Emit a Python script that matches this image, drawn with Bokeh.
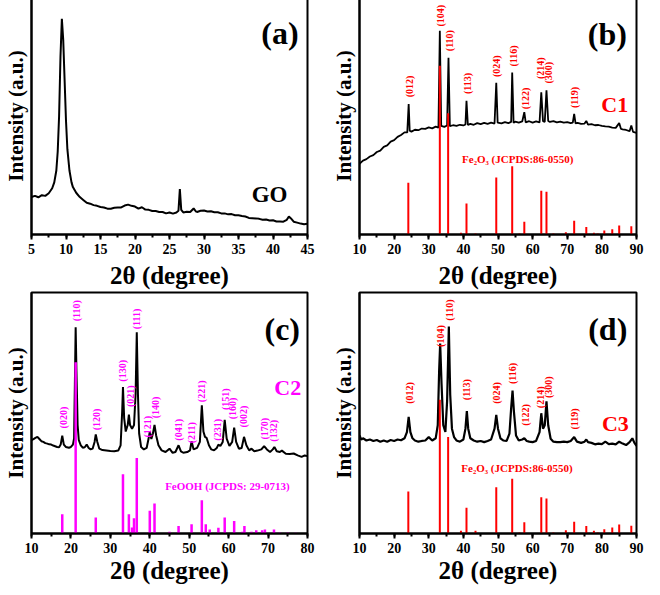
from math import pi
from bokeh.plotting import figure
from bokeh.layouts import column, row
from bokeh.models import Range1d, SingleIntervalTicker, FixedTicker
from bokeh.core.properties import value
from bokeh.embed import file_html
from bokeh.resources import INLINE

FONT = "Liberation Serif"
RED = "#FF0000"
MAG = "#FF00FF"

# ---------------- (a) GO ----------------
go_x = [5.0, 5.5, 6.0, 6.5, 7.0, 7.5, 8.0, 8.3, 8.6, 8.8, 9.0, 9.2, 9.4, 9.6, 9.8, 10.0,
        10.2, 10.5, 10.8, 11.0, 11.5, 12.0, 12.5, 13.0, 13.5, 14.0, 14.5, 15.0, 15.5, 16.0,
        16.5, 17.0, 17.5, 18.0, 18.5, 19.0, 19.5, 20.0, 20.5, 21.0, 21.5, 22.0, 22.5, 23.0,
        23.5, 24.0, 24.5, 25.0, 25.5, 26.0, 26.3, 26.5, 26.7, 27.0, 27.5, 28.0, 28.5, 28.8,
        29.0, 29.5, 30.0, 30.5, 31.0, 31.5, 32.0, 32.5, 33.0, 33.5, 34.0, 34.5, 35.0, 35.5,
        36.0, 36.5, 37.0, 37.5, 38.0, 38.5, 39.0, 39.5, 40.0, 40.5, 41.0, 41.5, 42.0, 42.3,
        42.6, 43.0, 43.5, 44.0, 44.5, 45.0]
go_y = [15.8, 16.3, 15.7, 16.6, 16.3, 17.4, 19.5, 22.0, 27.0, 35.0, 50.0, 75.0, 91.0, 82.0,
        65.0, 48.0, 36.0, 27.0, 22.0, 20.0, 17.5, 15.8, 14.6, 13.4, 13.0, 12.4, 12.1, 11.6,
        11.4, 10.9, 10.9, 11.3, 11.4, 11.4, 12.2, 12.6, 12.1, 11.8, 10.9, 11.5, 10.5, 10.4,
        9.9, 9.9, 9.5, 9.5, 8.9, 9.3, 8.8, 9.3, 10.0, 19.2, 10.4, 9.3, 9.6, 9.5, 11.0, 9.8,
        9.5, 10.0, 10.1, 9.7, 9.8, 9.4, 9.4, 8.9, 8.9, 8.5, 8.6, 8.1, 8.1, 7.8, 7.6, 7.0,
        6.9, 6.8, 6.6, 6.2, 6.3, 5.9, 6.0, 5.5, 5.5, 5.4, 6.2, 7.6, 6.8, 5.4, 5.0, 4.6, 4.3, 4.5]

# ---------------- (b) C1 ----------------
c1_x = [10, 11, 12, 13, 14, 15, 16, 17, 18, 19, 20, 21, 22, 23, 23.8, 24.2, 24.5, 25, 26,
        27, 28, 29, 30, 31, 32, 32.8, 33.2, 33.6, 34.5, 35.3, 35.7, 36.1, 37, 38, 39, 40,
        40.6, 40.9, 41.3, 42, 43, 44, 45, 46, 47, 48, 49, 49.5, 49.9, 51, 52, 53, 53.8, 54.1,
        54.5, 55, 56, 57, 57.6, 58, 59, 60, 61, 62, 62.5, 63, 63.5, 64.0, 64.5, 65, 66, 67,
        68, 69, 70, 71, 71.6, 72, 72.4, 73, 74, 75, 75.5, 76, 77, 78, 79, 80, 81, 82, 83,
        84, 85, 85.5, 86, 87, 88, 88.5, 89, 90]
c1_y = [29.8, 31.2, 31.8, 32.9, 33.5, 34.8, 35.4, 37.0, 37.6, 39.2, 39.8, 41.2, 42.0, 43.1,
        43.1, 55.0, 43.8, 43.4, 44.2, 44.0, 44.7, 44.6, 45.2, 44.8, 45.5, 45.1, 86.0, 45.8,
        45.4, 46.0, 74.6, 45.7, 46.1, 45.8, 46.3, 46.0, 46.4, 56.4, 46.2, 46.7, 46.3, 47.0,
        46.6, 47.1, 46.7, 47.2, 46.8, 64.0, 47.2, 46.9, 47.4, 47.0, 47.5, 68.3, 47.1, 47.6,
        47.2, 47.7, 51.6, 47.3, 47.8, 47.2, 47.7, 47.3, 60.0, 47.8, 47.5, 60.8, 47.9, 47.5,
        47.8, 47.3, 47.6, 47.2, 47.4, 47.0, 47.2, 50.9, 46.9, 47.1, 46.7, 46.8, 47.9, 46.4,
        46.6, 46.1, 46.2, 45.8, 45.6, 45.5, 45.1, 45.0, 47.0, 44.6, 44.4, 44.1, 43.6, 46.0,
        43.3, 42.9]

fe2o3_x = [24.1, 33.2, 35.6, 39.3, 40.9, 43.5, 49.5, 54.1, 56.2, 57.6, 62.5, 64.0, 66.0,
           69.6, 72.0, 75.5, 77.7, 78.8, 80.7, 83.0, 85.0, 88.5]
ref_b_h = [21.8, 71.2, 51.2, 0.7, 13.1, 0.4, 24.0, 28.8, 0.4, 5.4, 18.5, 18.0, 0.4,
           1.0, 5.8, 3.2, 0.7, 0.4, 1.7, 2.2, 3.8, 3.5]
hkl_fe = ["(012)", "(104)", "(110)", "(113)", "(024)", "(116)", "(122)", "(214)", "(300)", "(119)"]
hkl_b_x = [24.4, 33.5, 36.0, 41.2, 49.7, 54.4, 57.9, 62.3, 64.7, 72.2]
hkl_b_y = [62.5, 92.3, 81.8, 63.7, 71.0, 75.3, 57.4, 70.2, 68.3, 57.8]

# ---------------- (c) C2 ----------------
c2_x = [10, 10.5, 11, 11.5, 12, 12.5, 13, 13.5, 14, 14.5, 15, 15.5, 16, 16.5, 17, 17.4, 17.8,
        18.2, 18.7, 19.5, 20, 20.5, 20.8, 21.0, 21.2, 21.4, 21.7, 22.0, 22.5, 23, 23.5, 24.0,
        24.5, 25, 25.5, 26.0, 26.3, 26.7, 27.2, 28, 29, 30, 31, 32, 32.6, 33.0, 33.2, 33.5,
        33.9, 34.4, 34.7, 35.0, 35.5, 36.0, 36.4, 36.7, 37.0, 37.3, 37.8, 38.5, 39.2, 39.7,
        40.0, 40.4, 40.8, 41.2, 41.6, 42.2, 43, 44, 45, 45.8, 46.5, 47.3, 47.9, 48.5, 49.5,
        50.2, 50.6, 51.1, 52, 52.7, 53.2, 53.6, 54.0, 54.4, 55.0, 55.6, 56.3, 57.0, 57.4,
        57.9, 58.5, 59.0, 59.5, 60.2, 60.9, 61.4, 61.9, 62.6, 63.3, 63.9, 64.5, 65.2, 65.8,
        66.5, 67.3, 68.3, 69.0, 69.7, 70.5, 71.2, 71.6, 72.2, 73, 73.5, 74.5, 75.5, 76.5,
        77.5, 78.5, 79.3, 80]
c2_y = [38.7, 39.2, 39.7, 40.1, 39.2, 38.3, 38.0, 37.5, 37.3, 37.0, 36.9, 36.5, 36.2, 35.9,
        35.8, 36.9, 40.6, 36.9, 35.9, 35.6, 35.9, 36.9, 39.4, 62.0, 85.6, 67.6, 45.0, 38.7,
        36.6, 35.6, 35.8, 36.9, 35.5, 34.9, 35.2, 38.0, 41.1, 38.0, 35.2, 34.6, 34.4, 34.2,
        34.1, 34.4, 36.6, 50.7, 60.8, 47.9, 42.3, 45.0, 49.3, 45.0, 43.4, 45.0, 57.7, 83.5,
        57.7, 41.5, 35.9, 34.9, 35.5, 39.4, 42.3, 39.2, 41.5, 45.1, 40.8, 36.6, 34.5, 33.8,
        35.2, 33.5, 33.8, 36.6, 34.1, 33.5, 33.8, 34.5, 38.3, 34.9, 35.5, 38.0, 53.2, 42.3,
        40.1, 39.7, 36.6, 34.9, 34.5, 35.5, 36.9, 36.3, 38.0, 47.2, 39.4, 36.3, 38.0, 43.9,
        38.0, 35.2, 35.5, 40.1, 36.6, 34.5, 35.2, 34.1, 34.4, 34.9, 36.3, 34.9, 33.8, 34.9,
        35.9, 34.1, 33.8, 34.4, 33.1, 33.0, 33.2, 32.4, 31.8, 32.4, 32.1]

feooh_x = [17.8, 21.2, 26.3, 33.2, 34.7, 35.5, 36.0, 36.7, 40.0, 41.2, 45.0, 47.3, 50.6,
           53.2, 54.2, 55.2, 57.4, 59.0, 61.4, 63.5, 64.0, 65.8, 67.0, 68.5, 69.2, 71.5,
           73.0, 75.0, 77.0]
feooh_h = [8.0, 71.1, 6.6, 24.6, 8.0, 2.5, 6.3, 31.3, 9.4, 12.4, 0.7, 3.1, 3.8, 13.8, 3.8,
           1.7, 2.4, 6.6, 5.2, 0.7, 3.1, 0.7, 1.4, 1.4, 1.7, 1.7, 0.4, 0.4, 0.3]
hkl_c = ["(020)", "(110)", "(120)", "(130)", "(021)", "(111)", "(121)", "(140)", "(041)",
         "(211)", "(221)", "(231)", "(151)", "(160)", "(002)", "(170)", "(132)"]
hkl_c_x = [18.1, 21.3, 26.5, 33.2, 35.2, 36.7, 39.5, 41.5, 47.2, 50.5, 53.1, 57.1, 59.1,
           61.1, 63.8, 69.1, 71.5]
hkl_c_y = [48.1, 92.4, 47.3, 67.5, 57.0, 89.0, 44.3, 52.3, 43.0, 41.8, 59.0, 43.0, 55.7,
           51.9, 48.5, 43.5, 42.6]

# ---------------- (d) C3 ----------------
c3_x = [10, 10.5, 11, 12, 13, 14, 15, 16, 17, 18, 19, 20, 21, 22, 23, 23.7, 24.2, 24.7, 25.3,
        26, 27, 28, 29, 30, 31, 32, 32.6, 33.0, 33.3, 33.7, 34.2, 34.8, 35.3, 35.8, 36.2, 36.7,
        37.3, 38, 39, 40, 40.6, 41.0, 41.4, 42, 43, 44, 45, 46, 47, 48, 49.0, 49.5, 50.0, 50.7,
        51.5, 52.5, 53.3, 53.8, 54.2, 54.6, 55.2, 56, 57, 57.6, 58.3, 59, 60, 61, 62, 62.5,
        63.0, 63.5, 64.0, 64.5, 65.2, 66, 67, 68, 69, 70, 71, 72, 72.8, 74, 75, 75.5, 76, 77,
        78, 79, 80, 81, 82, 83, 84, 85, 86, 87, 88, 88.8, 89.4, 90]
c3_y = [40.7, 39.0, 39.5, 38.6, 39.0, 38.4, 38.8, 38.1, 38.6, 38.1, 38.8, 38.4, 39.0, 38.7,
        39.5, 42.1, 48.4, 42.1, 39.5, 38.6, 38.1, 38.4, 38.6, 40.0, 38.6, 39.5, 44.9, 67.5,
        78.8, 61.9, 44.9, 42.1, 54.8, 85.9, 57.6, 43.5, 40.0, 38.6, 38.1, 39.0, 43.5, 50.8,
        43.5, 39.5, 38.6, 38.1, 38.4, 37.9, 38.4, 39.0, 43.5, 49.2, 43.5, 39.5, 38.6, 38.4,
        41.4, 52.0, 59.3, 50.6, 40.7, 38.6, 39.0, 39.5, 38.4, 38.1, 37.9, 38.4, 42.1, 49.9,
        43.5, 44.9, 54.8, 44.9, 39.3, 38.1, 37.9, 37.9, 38.1, 37.9, 38.4, 40.0, 38.1, 37.6,
        38.1, 39.0, 37.9, 37.6, 37.0, 37.3, 37.1, 38.1, 37.1, 37.3, 37.0, 38.1, 37.3, 36.7,
        37.9, 39.5, 37.6, 36.4]
ref_d_h = [17.4, 55.5, 40.0, 1.1, 10.7, 1.1, 19.2, 22.7, 0.4, 4.7, 15.0, 14.5, 0.4,
           1.4, 4.9, 3.1, 1.1, 0.4, 1.8, 2.5, 3.7, 3.2]
hkl_d_x = [24.3, 33.4, 35.9, 41.0, 49.6, 54.3, 57.8, 62.2, 64.6, 72.2]
hkl_d_y = [58.3, 81.9, 92.7, 59.7, 58.3, 66.4, 49.2, 56.5, 60.7, 47.5]


def base(width, height, xr, interval, bl, br, bt, bb, mls, als):
    p = figure(width=width, height=height, x_range=Range1d(*xr), y_range=Range1d(0, 100),
               output_backend="svg", toolbar_location=None,
               min_border_left=bl, min_border_right=br, min_border_top=bt, min_border_bottom=bb)
    p.xgrid.visible = False
    p.ygrid.visible = False
    p.border_fill_alpha = 0
    p.outline_line_color = "black"
    p.outline_line_width = 2
    p.outline_line_alpha = 1
    xa = p.xaxis[0]
    xa.ticker = SingleIntervalTicker(interval=interval, num_minor_ticks=2)
    xa.axis_line_width = 2
    xa.axis_line_color = "black"
    xa.major_tick_line_width = 2
    xa.major_tick_line_color = "black"
    xa.major_tick_in = 0
    xa.major_tick_out = 5
    xa.minor_tick_line_width = 2
    xa.minor_tick_line_color = "black"
    xa.minor_tick_in = 0
    xa.minor_tick_out = 3
    xa.major_label_text_font = FONT
    xa.major_label_text_font_size = "14px"
    xa.major_label_text_font_style = "bold"
    xa.major_label_text_color = "black"
    xa.major_label_standoff = mls
    xa.axis_label = "2θ (degree)"
    xa.axis_label_text_font = FONT
    xa.axis_label_text_font_size = "25px"
    xa.axis_label_text_font_style = "bold"
    xa.axis_label_text_color = "black"
    xa.axis_label_standoff = als
    ya = p.yaxis[0]
    ya.ticker = FixedTicker(ticks=[])
    ya.major_tick_line_color = None
    ya.minor_tick_line_color = None
    ya.axis_line_width = 2
    ya.axis_line_color = "black"
    ya.axis_label = "Intensity (a.u.)"
    ya.axis_label_text_font = FONT
    ya.axis_label_text_font_size = "21px"
    ya.axis_label_text_font_style = "bold"
    ya.axis_label_text_color = "black"
    ya.axis_label_standoff = 4
    return p


def label(p, x, y, t, size, color, angle=0.0):
    p.text(x=x, y=y, text=t, angle=angle, text_font=value(FONT), text_font_size=size,
           text_font_style="bold", text_color=color, text_align="center",
           text_baseline="middle")


H1, H2 = 295, 307

# (a)
pa = base(328, H1, (5, 45), 5, 28, 21, 1, 40, 4, 5)
pa.line(go_x, go_y, line_color="black", line_width=2)
label(pa, [41.0], [85.0], ["(a)"], "32px", "black")
label(pa, [39.5], [16.7], ["GO"], "23px", "black")

# (b)
pb = base(316, H1, (10, 90), 10, 29, 8, 1, 40, 4, 5)
pb.line(c1_x, c1_y, line_color="black", line_width=1.8)
pb.segment(x0=fe2o3_x, y0=[0] * len(fe2o3_x), x1=fe2o3_x, y1=ref_b_h, line_color=RED, line_width=2)
label(pb, hkl_b_x, hkl_b_y, hkl_fe, "10px", RED, pi / 2)
label(pb, [81.6], [84.6], ["(b)"], "32px", "black")
label(pb, [83.7], [55.0], ["C1"], "22px", RED)
label(pb, [55.7], [32.0], ["Fe₂O₃ (JCPDS:86-0550)"], "11px", RED)

# (c)
pc = base(328, H2, (10, 80), 10, 28, 21, 13, 40, 4, 1)
pc.line(c2_x, c2_y, line_color="black", line_width=2)
pc.segment(x0=feooh_x, y0=[0] * len(feooh_x), x1=feooh_x, y1=feooh_h, line_color=MAG, line_width=2.5)
label(pc, hkl_c_x, hkl_c_y, hkl_c, "10px", MAG, pi / 2)
label(pc, [73.6], [85.0], ["(c)"], "32px", "black")
label(pc, [75.0], [60.5], ["C2"], "22px", MAG)
label(pc, [59.7], [19.8], ["FeOOH (JCPDS: 29-0713)"], "11px", MAG)

# (d)
pd = base(316, H2, (10, 90), 10, 29, 8, 13, 40, 4, 1)
pd.line(c3_x, c3_y, line_color="black", line_width=2.2)
pd.segment(x0=fe2o3_x, y0=[0] * len(fe2o3_x), x1=fe2o3_x, y1=ref_d_h, line_color=RED, line_width=2)
label(pd, hkl_d_x, hkl_d_y, hkl_fe, "10px", RED, pi / 2)
label(pd, [81.7], [84.9], ["(d)"], "32px", "black")
label(pd, [83.9], [45.6], ["C3"], "22px", RED)
label(pd, [55.5], [27.0], ["Fe₂O₃ (JCPDS:86-0550)"], "11px", RED)

top_row = row(pa, pb, spacing=0)
bottom_row = row(pc, pd, spacing=0, margin=(-12, 0, 0, 0))
layout = column(top_row, bottom_row, spacing=0, margin=(-4, 0, -8, 0))
open("out.html", "w").write(file_html(layout, INLINE))
